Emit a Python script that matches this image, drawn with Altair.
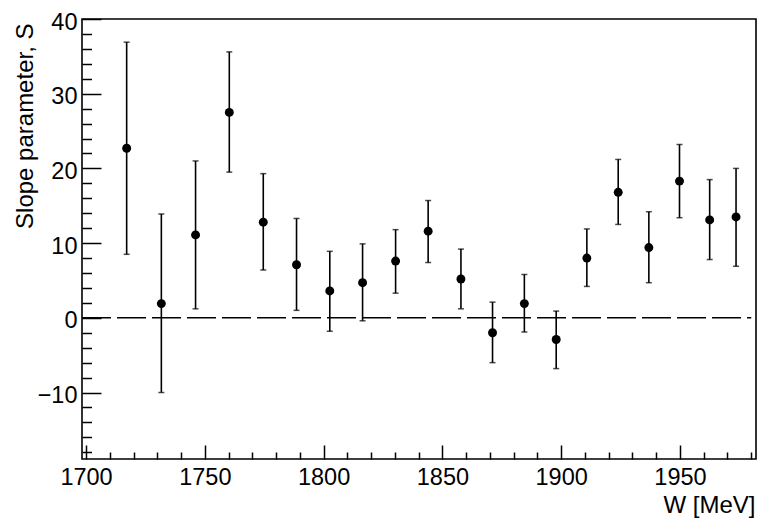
import altair as alt
import pandas as pd

# Data
w_mev = [1717.1, 1731.7, 1746.1, 1760.3, 1774.6, 1788.6, 1802.6, 1816.4, 1830.3, 1844.0,
         1857.8, 1871.1, 1884.5, 1897.9, 1910.8, 1924.0, 1936.9, 1949.8, 1962.5, 1973.6]
slope = [22.7, 1.9, 11.1, 27.5, 12.8, 7.1, 3.6, 4.7, 7.6, 11.6,
         5.2, -2.0, 1.9, -2.9, 8.0, 16.8, 9.4, 18.3, 13.1, 13.5]
slope_lo = [8.5, -10.0, 1.2, 19.5, 6.4, 1.0, -1.8, -0.4, 3.3, 7.4,
            1.2, -6.0, -1.9, -6.8, 4.2, 12.5, 4.7, 13.4, 7.8, 6.9]
slope_hi = [36.9, 13.9, 21.0, 35.6, 19.3, 13.3, 8.9, 9.9, 11.8, 15.7,
            9.2, 2.1, 5.8, 0.9, 11.9, 21.2, 14.2, 23.2, 18.5, 20.0]

x_domain = [1698.3, 1982.0]
y_domain = [-18.9, 40.0]
x_major = [1700, 1750, 1800, 1850, 1900, 1950]
x_minor = [v for v in range(1700, 1990, 10) if v % 50 != 0]
y_major = [-10, 0, 10, 20, 30, 40]
y_minor = [v for v in range(-18, 40, 2) if v % 10 != 0]
ref_x = [1698.3]
ref_x2 = [1980.0]
ref_y = [0]

df = pd.DataFrame({"W": w_mev, "S": slope, "lo": slope_lo, "hi": slope_hi})
ref = pd.DataFrame({"x": ref_x, "x2": ref_x2, "y": ref_y})

FONT = "Liberation Sans"
xs = alt.Scale(domain=x_domain, nice=False, zero=False)
ys = alt.Scale(domain=y_domain, nice=False, zero=False)

x_major_axis = alt.Axis(
    orient="bottom", values=x_major, tickSize=14, offset=-14, domain=False, grid=False,
    tickColor="black", tickWidth=1.5, labelFont=FONT, labelFontSize=23.5, labelColor="black",
    labelPadding=6, labelFlush=False, format="d",
    title="W [MeV]", titleFont=FONT, titleFontSize=24, titleFontWeight="normal", titleColor="black",
    titleAlign="right", titleBaseline="alphabetic", titleX=673, titleY=67.5,
)
y_major_axis = alt.Axis(
    orient="left", values=y_major, tickSize=19, offset=-19, domain=False, grid=False,
    tickColor="black", tickWidth=1.5, labelFont=FONT, labelFontSize=23.5, labelColor="black",
    labelPadding=5, labelOffset=3, labelFlush=False,
    title="Slope parameter, S", titleFont=FONT, titleFontSize=24, titleFontWeight="normal",
    titleColor="black", titleAngle=270, titleAlign="right", titleBaseline="alphabetic",
    titleX=-69, titleY=4,
)
x_minor_axis = alt.Axis(
    orient="bottom", values=x_minor, tickSize=7, offset=-7, domain=False, grid=False,
    tickColor="black", tickWidth=1.5, labels=False, title=None,
)
y_minor_axis = alt.Axis(
    orient="left", values=y_minor, tickSize=9.5, offset=-9.5, domain=False, grid=False,
    tickColor="black", tickWidth=1.5, labels=False, title=None,
)

base = alt.Chart(df)

bars = base.mark_rule(color="black", strokeWidth=1.6).encode(
    x=alt.X("W:Q", scale=xs, axis=x_major_axis),
    y=alt.Y("lo:Q", scale=ys, axis=y_major_axis),
    y2="hi:Q",
)
cap_lo = base.mark_tick(color="black", orient="horizontal", size=6, thickness=1.5).encode(
    x=alt.X("W:Q", scale=xs, axis=None),
    y=alt.Y("lo:Q", scale=ys, axis=None),
)
cap_hi = base.mark_tick(color="black", orient="horizontal", size=6, thickness=1.5).encode(
    x=alt.X("W:Q", scale=xs, axis=None),
    y=alt.Y("hi:Q", scale=ys, axis=None),
)
zero_line = alt.Chart(ref).mark_rule(color="black", strokeWidth=1.5, strokeDash=[29, 6]).encode(
    x=alt.X("x:Q", scale=xs, axis=None),
    x2="x2:Q",
    y=alt.Y("y:Q", scale=ys, axis=None),
)
points = base.mark_circle(color="black", size=80, opacity=1).encode(
    x=alt.X("W:Q", scale=xs, axis=x_minor_axis),
    y=alt.Y("S:Q", scale=ys, axis=y_minor_axis),
)

chart = alt.layer(zero_line, bars, cap_lo, cap_hi, points).resolve_axis(
    x="independent", y="independent"
).properties(
    width=674, height=440,
    autosize=alt.AutoSizeParams(type="none"),
    padding={"left": 74, "top": 11, "right": 4, "bottom": 60},
    background="white",
).configure_view(stroke="black", strokeWidth=1.6)

chart.save("out.html", embed_options={"renderer": "svg", "actions": False})
